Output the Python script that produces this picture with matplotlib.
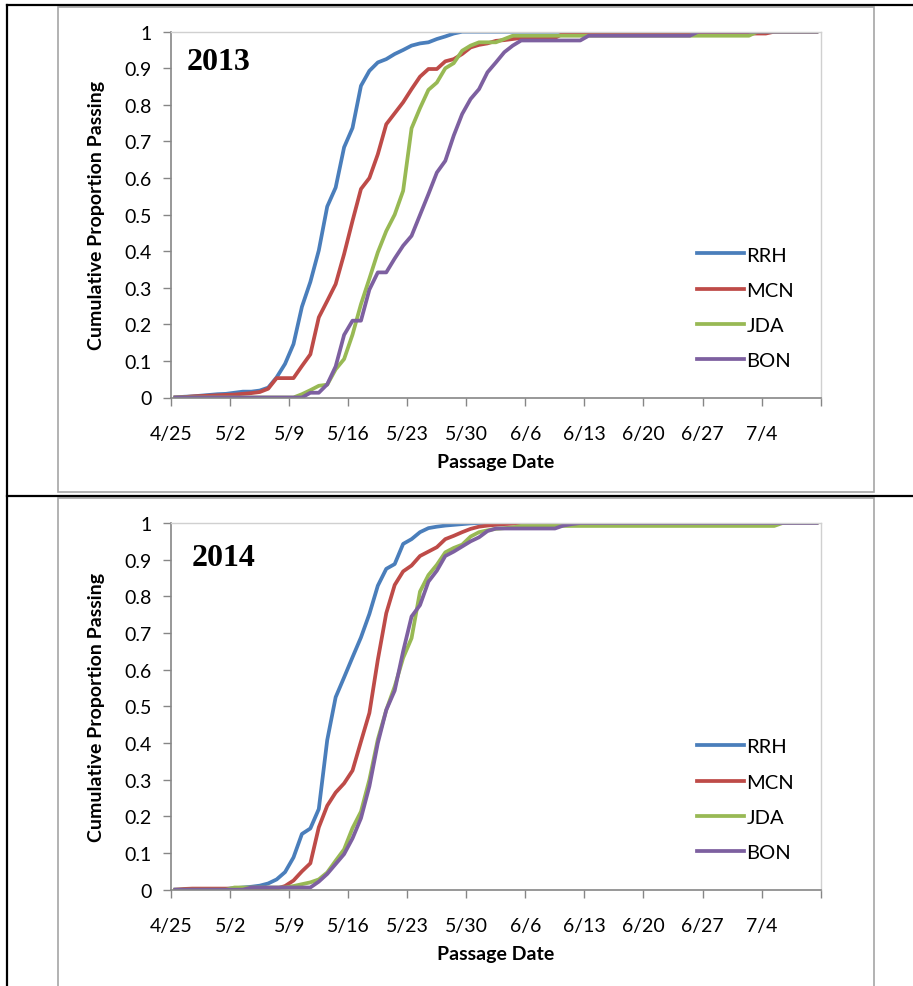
import numpy as np
import matplotlib.pyplot as plt
from matplotlib.patches import Rectangle
from matplotlib.lines import Line2D

# daily cumulative proportion passing, starting 4/25 (77 days)
rrh_2013 = [0, 0.002, 0.003, 0.005, 0.007, 0.009, 0.01, 0.013, 0.016, 0.016,
            0.019, 0.027, 0.055, 0.092, 0.146, 0.248, 0.316, 0.402, 0.522, 0.574,
            0.684, 0.737, 0.852, 0.893, 0.916, 0.925, 0.939, 0.95, 0.962, 0.968,
            0.971, 0.98, 0.987, 0.995, 1, 1, 1, 1, 1, 1,
            1, 1, 1, 1, 1, 1, 1, 1, 1, 1,
            1, 1, 1, 1, 1, 1, 1, 1, 1, 1,
            1, 1, 1, 1, 1, 1, 1, 1, 1, 1,
            1, 1, 1, 1, 1, 1, 1]
mcn_2013 = [0, 0.001, 0.003, 0.004, 0.005, 0.006, 0.007, 0.008, 0.01, 0.012,
            0.015, 0.024, 0.053, 0.053, 0.053, 0.086, 0.118, 0.219, 0.264, 0.31,
            0.392, 0.483, 0.57, 0.6, 0.665, 0.747, 0.777, 0.807, 0.843, 0.877,
            0.898, 0.898, 0.919, 0.925, 0.939, 0.957, 0.964, 0.968, 0.975, 0.977,
            0.98, 0.983, 0.983, 0.983, 0.983, 0.983, 0.995, 0.995, 0.995, 0.995,
            0.995, 0.995, 0.995, 0.995, 0.995, 0.995, 0.995, 0.995, 0.995, 0.995,
            0.995, 0.995, 0.995, 0.995, 0.995, 0.995, 0.995, 0.995, 0.995, 0.995,
            0.995, 1, 1, 1, 1, 1, 1]
jda_2013 = [0, 0, 0, 0, 0, 0, 0, 0, 0, 0,
            0, 0, 0, 0, 0, 0.009, 0.02, 0.032, 0.035, 0.077,
            0.105, 0.172, 0.255, 0.325, 0.397, 0.455, 0.5, 0.565, 0.736, 0.791,
            0.841, 0.861, 0.9, 0.914, 0.948, 0.962, 0.971, 0.971, 0.971, 0.98,
            0.989, 0.989, 0.989, 0.989, 0.989, 0.989, 0.989, 0.989, 0.989, 0.989,
            0.989, 0.989, 0.989, 0.989, 0.989, 0.989, 0.989, 0.989, 0.989, 0.989,
            0.989, 0.989, 0.989, 0.989, 0.989, 0.989, 0.989, 0.989, 0.989, 1,
            1, 1, 1, 1, 1, 1, 1]
bon_2013 = [0, 0, 0, 0, 0, 0, 0, 0, 0, 0,
            0, 0, 0, 0, 0, 0, 0.013, 0.013, 0.036, 0.085,
            0.171, 0.21, 0.21, 0.295, 0.342, 0.342, 0.38, 0.415, 0.442, 0.499,
            0.556, 0.615, 0.647, 0.716, 0.775, 0.816, 0.843, 0.889, 0.916, 0.944,
            0.962, 0.976, 0.976, 0.976, 0.976, 0.976, 0.976, 0.976, 0.976, 0.989,
            0.989, 0.989, 0.989, 0.989, 0.989, 0.989, 0.989, 0.989, 0.989, 0.989,
            0.989, 0.989, 1, 1, 1, 1, 1, 1, 1, 1,
            1, 1, 1, 1, 1, 1, 1]

rrh_2014 = [0, 0, 0, 0, 0, 0.001, 0.002, 0.004, 0.006, 0.008,
            0.011, 0.017, 0.028, 0.048, 0.088, 0.152, 0.167, 0.22, 0.408, 0.525,
            0.579, 0.634, 0.688, 0.752, 0.829, 0.875, 0.888, 0.943, 0.956, 0.975,
            0.986, 0.99, 0.993, 0.995, 0.997, 0.999, 1, 1, 1, 1,
            1, 1, 1, 1, 1, 1, 1, 1, 1, 1,
            1, 1, 1, 1, 1, 1, 1, 1, 1, 1,
            1, 1, 1, 1, 1, 1, 1, 1, 1, 1,
            1, 1, 1, 1, 1, 1, 1]
mcn_2014 = [0, 0.002, 0.003, 0.003, 0.003, 0.003, 0.003, 0.003, 0.001, 0.001,
            0.001, 0.001, 0.003, 0.01, 0.025, 0.05, 0.072, 0.17, 0.229, 0.265,
            0.29, 0.325, 0.404, 0.482, 0.627, 0.754, 0.831, 0.868, 0.884, 0.91,
            0.922, 0.934, 0.956, 0.965, 0.975, 0.984, 0.99, 0.993, 0.995, 0.997,
            0.998, 1, 1, 1, 1, 1, 1, 1, 1, 1,
            1, 1, 1, 1, 1, 1, 1, 1, 1, 1,
            1, 1, 1, 1, 1, 1, 1, 1, 1, 1,
            1, 1, 1, 1, 1, 1, 1]
jda_2014 = [0, 0, 0, 0, 0, 0, 0, 0.006, 0.006, 0.006,
            0.006, 0.006, 0.006, 0.006, 0.01, 0.015, 0.02, 0.028, 0.047, 0.079,
            0.11, 0.168, 0.213, 0.3, 0.41, 0.49, 0.554, 0.632, 0.686, 0.813,
            0.858, 0.886, 0.92, 0.932, 0.941, 0.963, 0.975, 0.98, 0.984, 0.986,
            0.988, 0.992, 0.992, 0.992, 0.992, 0.992, 0.992, 0.992, 0.992, 0.992,
            0.992, 0.992, 0.992, 0.992, 0.992, 0.992, 0.992, 0.992, 0.992, 0.992,
            0.992, 0.992, 0.992, 0.992, 0.992, 0.992, 0.992, 0.992, 0.992, 0.992,
            0.992, 0.992, 1, 1, 1, 1, 1]
bon_2014 = [0, 0, 0, 0, 0, 0, 0, 0, 0, 0.006,
            0.006, 0.006, 0.006, 0.006, 0.006, 0.006, 0.006, 0.022, 0.043, 0.07,
            0.097, 0.14, 0.195, 0.282, 0.4, 0.49, 0.543, 0.65, 0.745, 0.776,
            0.84, 0.87, 0.91, 0.922, 0.936, 0.95, 0.961, 0.978, 0.985, 0.985,
            0.985, 0.985, 0.985, 0.985, 0.985, 0.985, 0.993, 0.997, 1, 1,
            1, 1, 1, 1, 1, 1, 1, 1, 1, 1,
            1, 1, 1, 1, 1, 1, 1, 1, 1, 1,
            1, 1, 1, 1, 1, 1, 1]

sites = ['RRH', 'MCN', 'JDA', 'BON']
colors = ['#4A7EBB', '#BE4B48', '#98B954', '#7D60A0']
tick_labels = ['4/25', '5/2', '5/9', '5/16', '5/23', '5/30', '6/6', '6/13',
               '6/20', '6/27', '7/4', '']
y_labels = ['0', '0.1', '0.2', '0.3', '0.4', '0.5', '0.6', '0.7', '0.8', '0.9', '1']

plt.rcParams['font.family'] = ['Lato', 'DejaVu Sans']

W, H = 913, 987
fig = plt.figure(figsize=(W / 100, H / 100), dpi=100)


def px_box(x0, y0, x1, y1):
    # pixel box (top-left origin) -> figure fraction rect
    return [x0 / W, 1 - y1 / H, (x1 - x0) / W, (y1 - y0) / H]


def draw_panel(rect, year, series, year_pos):
    ax = fig.add_axes(rect)
    days = np.arange(len(series[0])) + 0.5
    for vals, name, c in zip(series, sites, colors):
        ax.plot(days, vals, color=c, lw=2.7, label=name, solid_joinstyle='round')
    ax.set_xlim(0, 77)
    ax.set_ylim(0, 1)
    ax.set_xticks(np.arange(0, 78, 7))
    ax.set_xticklabels(tick_labels)
    ax.set_yticks(np.linspace(0, 1, 11))
    ax.set_yticklabels(y_labels)
    ax.tick_params(axis='x', direction='out', length=6, width=1, color='#868686',
                   labelsize=14, pad=13.5)
    ax.tick_params(axis='y', direction='out', length=6, width=1, color='#868686',
                   labelsize=14, pad=8)
    for s in ['left', 'bottom']:
        ax.spines[s].set_color('#868686')
        ax.spines[s].set_linewidth(1.2)
    for s in ['top', 'right']:
        ax.spines[s].set_color('#D0D0D0')
        ax.spines[s].set_linewidth(1)
    ax.set_xlabel('Passage Date', fontsize=14, fontweight='bold', labelpad=8)
    ax.set_ylabel('Cumulative Proportion Passing', fontsize=14, fontweight='bold',
                  labelpad=14)
    ax.text(year_pos[0], year_pos[1], year, transform=ax.transAxes,
            fontsize=23, fontweight='bold', family='Liberation Serif',
            va='center', ha='left')
    ax.legend(loc='upper left', bbox_to_anchor=(0.81, 0.413), frameon=False,
              fontsize=14.5, handlelength=2.3, handletextpad=0.15,
              labelspacing=0.9, borderpad=0, borderaxespad=0)
    return ax


draw_panel(px_box(171.2, 32.7, 820.6, 398.5), '2013',
           [rrh_2013, mcn_2013, jda_2013, bon_2013], (0.023, 0.918))
draw_panel(px_box(171.2, 524, 820.6, 890.7), '2014',
           [rrh_2014, mcn_2014, jda_2014, bon_2014], (0.032, 0.907))

# chart area borders
for y0, y1 in [(8, 493), (499, 990)]:
    fig.add_artist(Rectangle((58 / W, 1 - y1 / H), (873.6 - 58) / W, (y1 - y0) / H,
                             transform=fig.transFigure, fill=False,
                             edgecolor='#A6A6A6', lw=1.2))

# table lines
table_lines = [((7, 913), (6, 6)), ((7, 913), (497, 497)), ((7, 7), (6, 987))]
for xs, ys in table_lines:
    fig.add_artist(Line2D([x / W for x in xs], [1 - y / H for y in ys],
                          transform=fig.transFigure, color='black', lw=1.6))

plt.savefig('out.png', dpi=100)
